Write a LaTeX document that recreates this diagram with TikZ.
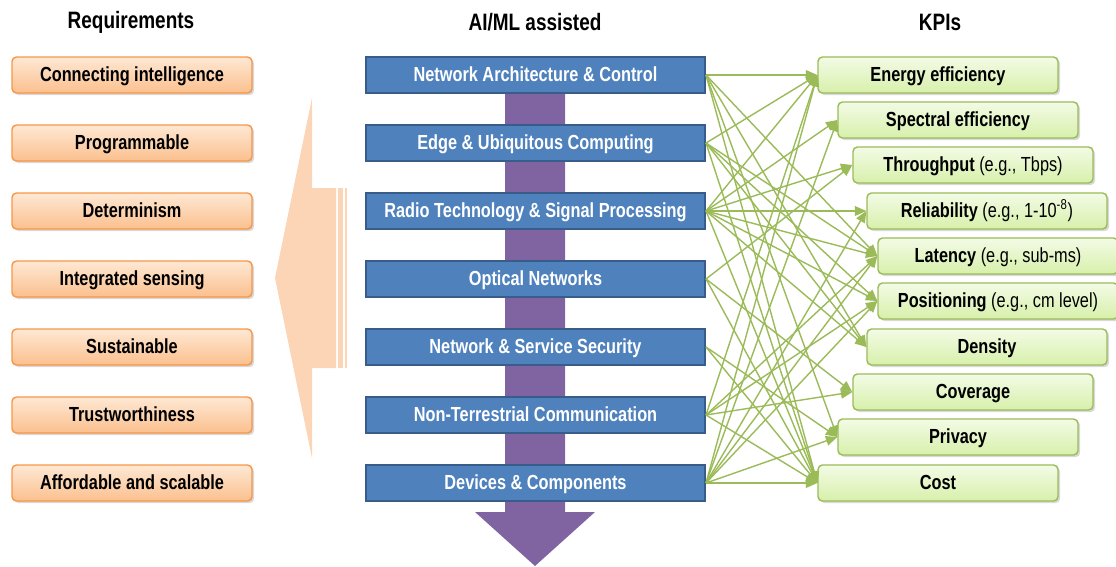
\documentclass[tikz,border=0pt]{standalone}
\usepackage{fontspec}
\setmainfont{Liberation Sans}[FakeStretch=0.8]
\usetikzlibrary{arrows.meta,shadows}
\definecolor{reqedge}{HTML}{F79646}
\definecolor{reqtop}{HTML}{FEE8D4}
\definecolor{reqbot}{HTML}{FBC08E}
\definecolor{techfill}{HTML}{4F81BD}
\definecolor{techedge}{HTML}{385D8A}
\definecolor{kpiedge}{HTML}{9BBB59}
\definecolor{kpitop}{HTML}{F3FBE6}
\definecolor{kpibot}{HTML}{D7F0AA}
\definecolor{flow}{HTML}{8064A2}
\definecolor{peach}{HTML}{FBD5B5}
\begin{document}
\begin{tikzpicture}[x=0.02cm,y=-0.02cm,
  head/.style={font=\fontsize{13.5}{15}\selectfont\bfseries},
  req/.style={draw=reqedge, line width=0.8pt, rounded corners=2.5pt, top color=reqtop, bottom color=reqbot,
    minimum width=4.8cm, minimum height=0.72cm, text height=8pt, text depth=1pt,
    font=\fontsize{11.6}{13}\selectfont\bfseries,
    drop shadow={shadow xshift=1.2pt, shadow yshift=-1.2pt, opacity=0.3}},
  tech/.style={draw=techedge, line width=1.2pt, fill=techfill, text=white,
    minimum width=6.78cm, minimum height=0.72cm, text height=8pt, text depth=1pt,
    font=\fontsize{11.6}{13}\selectfont\bfseries},
  kpi/.style={draw=kpiedge, line width=0.8pt, rounded corners=2.5pt, top color=kpitop, bottom color=kpibot,
    minimum width=4.8cm, minimum height=0.72cm, text height=8pt, text depth=1pt,
    font=\fontsize{11.6}{13}\selectfont,
    drop shadow={shadow xshift=1.2pt, shadow yshift=-1.2pt, opacity=0.3}},
  link/.style={draw=kpiedge, line width=0.8pt, -{Triangle[length=6.5pt,width=5.5pt]}}]
\useasboundingbox (0,0) rectangle (1116,566);

% headings
\node[head] (hreq) at (131,22) {Requirements};
\node[head] (htech) at (535,22) {AI/ML assisted};
\node[head] (hkpi) at (940,22) {KPIs};

% big arrow towards the requirements
\fill[peach] (312,98) -- (312,188) -- (336,188) -- (336,368) -- (312,368) -- (312,458) -- (275,278) -- cycle;
\fill[peach] (338,188) rectangle (343,368);
\fill[peach] (345,188) rectangle (347,368);

% requirements
\node[req] (r1) at (132,75) {Connecting intelligence};
\node[req] (r2) at (132,143) {Programmable};
\node[req] (r3) at (132,211) {Determinism};
\node[req] (r4) at (132,279) {Integrated sensing};
\node[req] (r5) at (132,347) {Sustainable};
\node[req] (r6) at (132,415) {Trustworthiness};
\node[req] (r7) at (132,483) {Affordable and scalable};

% flow arrow behind the technologies
\fill[flow] (505,75) -- (565,75) -- (565,512) -- (595,512) -- (535,566) -- (475,512) -- (505,512) -- cycle;

% technologies
\node[tech] (t1) at (535.5,75) {Network Architecture \& Control};
\node[tech] (t2) at (535.5,143) {Edge \& Ubiquitous Computing};
\node[tech] (t3) at (535.5,211) {Radio Technology \& Signal Processing};
\node[tech] (t4) at (535.5,279) {Optical Networks};
\node[tech] (t5) at (535.5,347) {Network \& Service Security};
\node[tech] (t6) at (535.5,415) {Non-Terrestrial Communication};
\node[tech] (t7) at (535.5,483) {Devices \& Components};

% KPIs
\node[kpi] (k1) at (938,75) {\textbf{Energy efficiency}};
\node[kpi] (k2) at (958,120) {\textbf{Spectral efficiency}};
\node[kpi] (k3) at (973,165) {\textbf{Throughput} (e.g., Tbps)};
\node[kpi] (k4) at (987,211) {\textbf{Reliability} (e.g., 1-10\textsuperscript{-8})};
\node[kpi] (k5) at (998,256) {\textbf{Latency} (e.g., sub-ms)};
\node[kpi] (k6) at (998,301) {\textbf{Positioning} (e.g., cm level)};
\node[kpi] (k7) at (987,347) {\textbf{Density}};
\node[kpi] (k8) at (973,392) {\textbf{Coverage}};
\node[kpi] (k9) at (958,437) {\textbf{Privacy}};
\node[kpi] (k10) at (938,483) {\textbf{Cost}};

% links
\draw[link] (t1.east) -- (k1.west);
\draw[link] (t1.east) -- (k5.west);
\draw[link] (t1.east) -- (k7.west);
\draw[link] (t1.east) -- (k9.west);
\draw[link] (t1.east) -- (k10.west);
\draw[link] (t2.east) -- (k1.west);
\draw[link] (t2.east) -- (k5.west);
\draw[link] (t2.east) -- (k6.west);
\draw[link] (t2.east) -- (k7.west);
\draw[link] (t2.east) -- (k10.west);
\draw[link] (t3.east) -- (k1.west);
\draw[link] (t3.east) -- (k2.west);
\draw[link] (t3.east) -- (k3.west);
\draw[link] (t3.east) -- (k4.west);
\draw[link] (t3.east) -- (k5.west);
\draw[link] (t3.east) -- (k6.west);
\draw[link] (t3.east) -- (k7.west);
\draw[link] (t3.east) -- (k10.west);
\draw[link] (t4.east) -- (k3.west);
\draw[link] (t4.east) -- (k8.west);
\draw[link] (t4.east) -- (k10.west);
\draw[link] (t5.east) -- (k9.west);
\draw[link] (t5.east) -- (k10.west);
\draw[link] (t6.east) -- (k1.west);
\draw[link] (t6.east) -- (k5.west);
\draw[link] (t6.east) -- (k6.west);
\draw[link] (t6.east) -- (k8.west);
\draw[link] (t6.east) -- (k10.west);
\draw[link] (t7.east) -- (k1.west);
\draw[link] (t7.east) -- (k2.west);
\draw[link] (t7.east) -- (k4.west);
\draw[link] (t7.east) -- (k5.west);
\draw[link] (t7.east) -- (k6.west);
\draw[link] (t7.east) -- (k9.west);
\draw[link] (t7.east) -- (k10.west);
\end{tikzpicture}
\end{document}
